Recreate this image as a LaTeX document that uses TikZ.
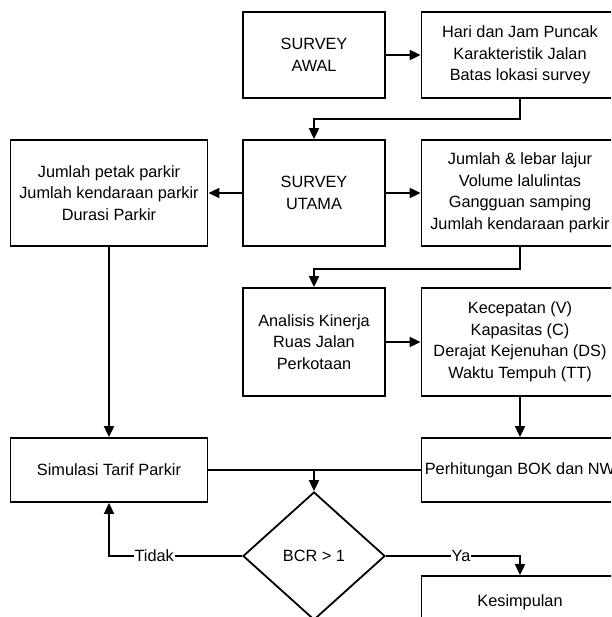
\documentclass[tikz,border=0pt]{standalone}
\usepackage{fontspec}
\setmainfont{Liberation Sans}
\usetikzlibrary{arrows.meta,shapes.geometric}

\begin{document}
\begin{tikzpicture}[x=1pt,y=-1pt,
    box/.style={draw,line width=1.8pt,align=center,inner sep=0pt,
      font=\fontsize{16.3}{21.5}\selectfont},
    smallbox/.style={box,minimum width=142,minimum height=#1},
    widebox/.style={box,minimum width=197,minimum height=#1},
    arr/.style={line width=1.8pt,-{Triangle[length=11pt,width=10pt]}},
    line/.style={line width=1.8pt},
    lbl/.style={fill=white,inner sep=1pt,font=\fontsize{16.3}{20}\selectfont}]
    \useasboundingbox (0,0) rectangle (611,617);
    \clip (0,0) rectangle (611,617);
    % top row
    \node[smallbox=86] (awal) at (314,55) {SURVEY\\AWAL};
    \node[widebox=86] (hari) at (520,55) {Hari dan Jam Puncak\\Karakteristik Jalan\\Batas lokasi survey};
    % second row
    \node[widebox=106] (parkir) at (109,193) {Jumlah petak parkir\\Jumlah kendaraan parkir\\Durasi Parkir};
    \node[smallbox=106] (utama) at (314,193) {SURVEY\\UTAMA};
    \node[widebox=106] (lajur) at (520,193) {Jumlah \& lebar lajur\\Volume lalulintas\\Gangguan samping\\Jumlah kendaraan parkir};
    % third row
    \node[smallbox=108] (analisis) at (314,342) {Analisis Kinerja\\Ruas Jalan\\Perkotaan};
    \node[widebox=108] (kecepatan) at (520,342) {Kecepatan (V)\\Kapasitas (C)\\Derajat Kejenuhan (DS)\\Waktu Tempuh (TT)};
    % fourth row
    \node[widebox=64] (simulasi) at (109,470) {Simulasi Tarif Parkir};
    \node[widebox=64] (bok) at (520,470) {Perhitungan BOK dan NW};
    \node[box,diamond,aspect=1.11,minimum width=142,minimum height=128] (bcr) at (314,556) {BCR > 1};
    \node[widebox=52] (kesimpulan) at (520,602) {Kesimpulan};
    \coordinate (join) at (bcr.north |- simulasi.east);

    \draw[arr] (awal) -- (hari);
    \draw[arr] (hari.south) -- ++(0,20) -| (utama.north);
    \draw[arr] (utama) -- (parkir);
    \draw[arr] (utama) -- (lajur);
    \draw[arr] (lajur.south) -- ++(0,22) -| (analisis.north);
    \draw[arr] (analisis) -- (kecepatan);
    \draw[arr] (kecepatan) -- (bok);
    \draw[arr] (parkir) -- (simulasi);
    \draw[line] (simulasi) -- (bok);
    \draw[arr] (join) -- (bcr.north);
    \draw[arr] (bcr.west) -| node[lbl,pos=0.33] {Tidak} (simulasi.south);
    \draw[arr] (bcr.east) -| node[lbl,pos=0.28] {Ya} (kesimpulan.north);
\end{tikzpicture}
\end{document}
